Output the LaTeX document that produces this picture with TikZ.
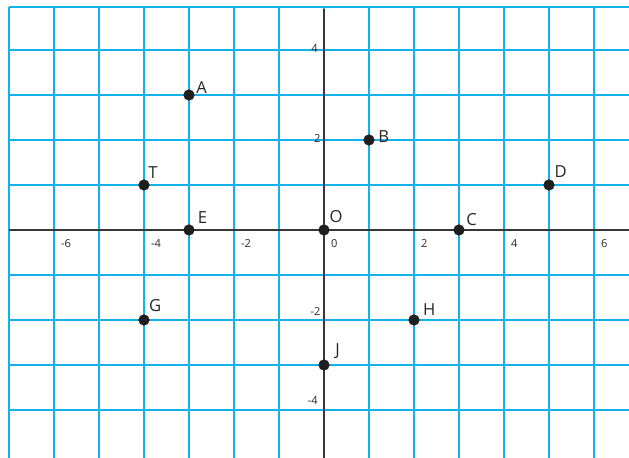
\documentclass[tikz,border=0pt]{standalone}
\usepackage{fontspec}
\setmainfont{Open Sans}
\usepackage{xcolor}
\definecolor{gridcyan}{RGB}{20,178,234}
\definecolor{axisgray}{RGB}{55,55,55}

\begin{document}
\begin{tikzpicture}[x=1cm,y=1cm,
    gridline/.style={gridcyan, line width=1.1pt},
    axisline/.style={axisgray, line width=0.9pt},
    ptdot/.style={circle, fill=black!88, inner sep=0pt, minimum size=0.25cm},
    ptlabel/.style={font=\fontsize{10.5}{12}\selectfont, text=black!85, inner sep=0pt},
    numlabel/.style={font=\fontsize{7}{8}\selectfont, text=black!85, inner sep=0pt}]
  % frame with the same margins as the reference
  \useasboundingbox (-7.2,-5.067) rectangle (6.778,5.111);
  % the blue grid, one line per unit
  \foreach \x in {-7,...,6}
    \draw[gridline] (\x,-5.067) -- (\x,4.95);
  \foreach \y in {-4,...,4,4.95}
    \draw[gridline] (-7,\y) -- (6.778,\y);
  % axes drawn over the grid
  \draw[axisline] (-7,0) -- (6.778,0);
  \draw[axisline] (0,-5.067) -- (0,4.9);
  % numbers on the x axis
  \foreach \v in {-6,-4,-2,0,2,4,6}
    \node[numlabel, anchor=base west] (nx\v) at (\v+0.15,-0.38) {\v};
  % numbers on the y axis (the negative ones sit higher)
  \foreach \v/\dy/\dx in {4/-0.06/-0.13, 2/-0.05/-0.07, -2/0.09/-0.07, -4/0.12/-0.13}
    \node[numlabel, anchor=base east] (ny\v) at (\dx,\v+\dy) {\v};
  % the points and their letters
  \foreach \name/\px/\py/\lx/\ly in {A/-3/3/0.28/0.17, B/1/2/0.33/0.08,
      C/3/0/0.28/0.24, D/5/1/0.26/0.3, T/-4/1/0.2/0.28, E/-3/0/0.3/0.28,
      O/0/0/0.27/0.29, G/-4/-2/0.25/0.31, H/2/-2/0.34/0.24, J/0/-3/0.3/0.31}
  {
    \node[ptdot] (\name) at (\px,\py) {};
    \node[ptlabel] (l\name) at (\px+\lx,\py+\ly) {\name};
  }
\end{tikzpicture}
\end{document}
